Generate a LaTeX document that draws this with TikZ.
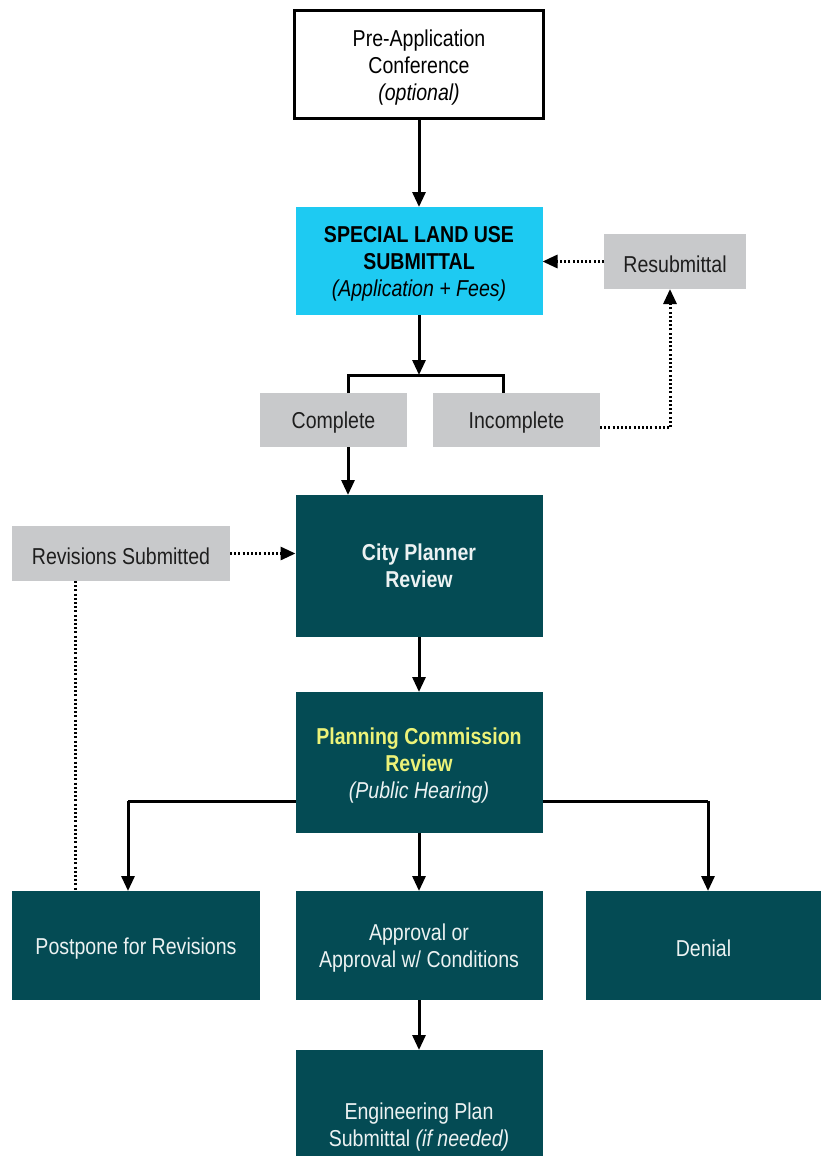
\documentclass[tikz,border=0pt]{standalone}
\usepackage{fontspec}
\setmainfont[FakeStretch=0.85]{Liberation Sans}
\usetikzlibrary{arrows.meta}
\definecolor{teal}{RGB}{4,75,84}
\definecolor{cyanbox}{RGB}{30,202,242}
\definecolor{graybox}{RGB}{200,201,203}
\definecolor{pcyellow}{RGB}{236,242,120}
\definecolor{offwhite}{RGB}{236,242,242}
\definecolor{darktext}{RGB}{30,30,30}
\newcommand\topstrt{\rule{0pt}{22pt}}
\tikzset{
  box/.style={rectangle, outer sep=0pt, inner sep=0pt, align=center,
    font=\fontsize{23}{27}\selectfont},
  prebox/.style={box, draw=black, line width=3.2pt, fill=white, text=black},
  cyanstyle/.style={box, fill=cyanbox, text=black},
  graystyle/.style={box, fill=graybox, text=darktext},
  tealstyle/.style={box, fill=teal, text=offwhite},
  flow/.style={line width=3pt, -{Triangle[length=15pt,width=13pt]}},
  plainline/.style={line width=3pt},
  dotflow/.style={line width=3pt, dash pattern=on 2pt off 2.2pt, -{Triangle[length=15pt,width=13pt]}},
  dotline/.style={line width=3pt, dash pattern=on 2pt off 2.2pt},
}
\begin{document}
\begin{tikzpicture}[x=1pt,y=-1pt]
\useasboundingbox (0,0) rectangle (821,1156);
\fill[white] (0,0) rectangle (821,1156);

\node[prebox, minimum width=249, minimum height=108] (pre) at (419,64.5)
  {\topstrt Pre-Application\\Conference\\\textit{(optional)}};
\node[cyanstyle, minimum width=247, minimum height=108] (sub) at (419,261)
  {\topstrt\textbf{SPECIAL LAND USE}\\\textbf{SUBMITTAL}\\\textit{(Application + Fees)}};
\node[graystyle, minimum width=142, minimum height=55] (resub) at (675,261.5) {\topstrt Resubmittal};
\node[graystyle, minimum width=147, minimum height=54] (comp) at (333.5,420) {\topstrt Complete};
\node[graystyle, minimum width=167, minimum height=54] (incomp) at (516.5,420) {\topstrt Incomplete};
\node[tealstyle, minimum width=247, minimum height=142] (city) at (419,566)
  {\textbf{City Planner}\\\textbf{Review}};
\node[graystyle, minimum width=218, minimum height=55] (rev) at (121,553.5) {\topstrt Revisions Submitted};
\node[tealstyle, minimum width=247, minimum height=141] (plan) at (419,762.5)
  {\topstrt\textcolor{pcyellow}{\textbf{Planning Commission}}\\\textcolor{pcyellow}{\textbf{Review}}\\\textit{(Public Hearing)}};
\node[tealstyle, minimum width=248, minimum height=109] (post) at (136,945.5) {\topstrt Postpone for Revisions};
\node[tealstyle, minimum width=247, minimum height=109] (appr) at (419,945.5) {\topstrt Approval or\\Approval w/ Conditions};
\node[tealstyle, minimum width=235, minimum height=109] (den) at (703.5,945.5) {\topstrt Denial};
\node[tealstyle, minimum width=247, minimum height=106] (eng) at (419,1103) {};
\node[box, text=offwhite] (engtext) at (419,1127) {Engineering Plan\\Submittal \textit{(if needed)}};

% coordinates
\coordinate (bm) at (419,375);
\coordinate (bl) at (348,375);
\coordinate (br) at (503,375);
\coordinate (rc) at (670,427);
\coordinate (rv) at (75,581);
\coordinate (lb) at (128,801);
\coordinate (rb) at (708,801);

% connectors
\draw[flow] (pre.south) -- (sub.north);
\draw[flow] (sub.south) -- (bm);
\draw[plainline] (bl |- comp.north) -- (bl) -- (br) -- (br |- incomp.north);
\draw[flow] (bl |- comp.south) -- (bl |- city.north);
\draw[dotline] (rc -| incomp.east) -- (rc);
\draw[dotflow] (rc) -- (rc |- resub.south);
\draw[dotflow] (resub.west) -- (resub.west -| sub.east);
\draw[dotflow] (rev.east) -- (rev.east -| city.west);
\draw[dotline] (rv |- rev.south) -- (rv |- post.north);
\draw[flow] (city.south) -- (plan.north);
\draw[plainline] (lb -| plan.west) -- (lb);
\draw[flow] (lb) -- (lb |- post.north);
\draw[plainline] (rb -| plan.east) -- (rb);
\draw[flow] (rb) -- (rb |- den.north);
\draw[flow] (plan.south) -- (appr.north);
\draw[flow] (appr.south) -- (eng.north);
\end{tikzpicture}
\end{document}
